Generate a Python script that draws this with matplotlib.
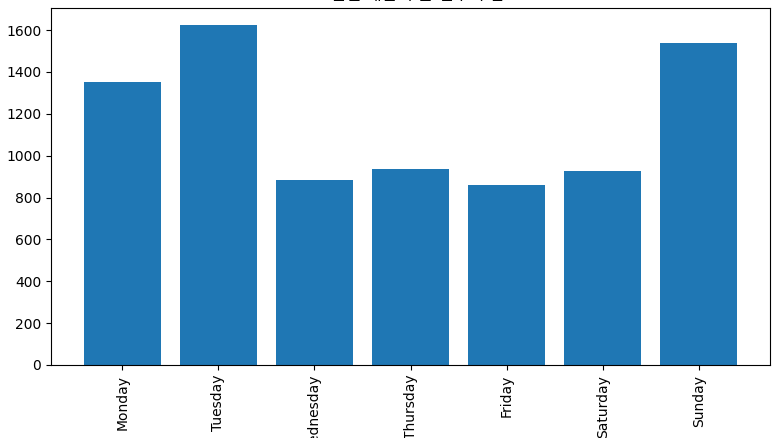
import matplotlib
matplotlib.use("Agg")
import matplotlib.pyplot as plt

# DejaVu for latin text, Noto CJK for the Korean glyphs
plt.rcParams['font.family'] = ['DejaVu Sans', 'Noto Sans CJK KR']

# Data
days = ['Monday', 'Tuesday', 'Wednesday', 'Thursday', 'Friday', 'Saturday', 'Sunday']
counts = [1353, 1624, 886, 936, 861, 926, 1540]

fig = plt.figure(figsize=(7.77, 4.38), dpi=100)
ax = fig.add_axes([51 / 777, 73 / 438, 719 / 777, 357 / 438])

ax.bar(days, counts, color='#1f77b4')
ax.set_title('요일별 배달 주문 건수의 합')
ax.set_ylabel('주문건수')
ax.set_yticks(range(0, 1601, 200))
plt.setp(ax.get_xticklabels(), rotation=90)

fig.savefig('out.png', dpi=100)
